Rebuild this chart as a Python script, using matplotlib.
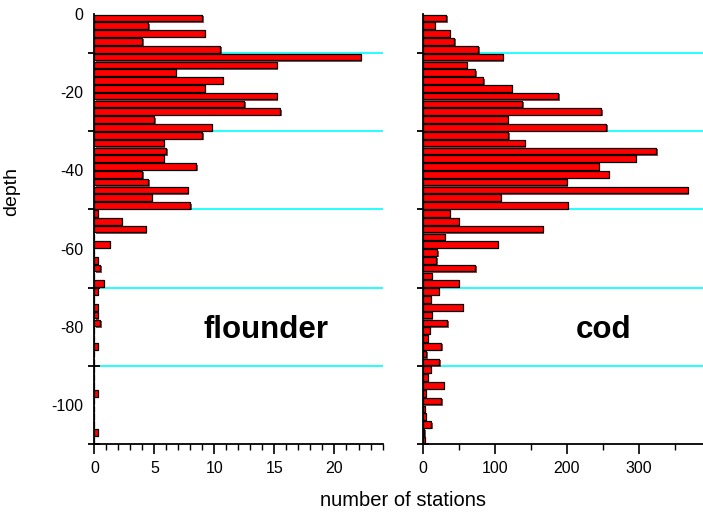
import matplotlib.pyplot as plt
import matplotlib.patheffects as pe
from matplotlib.ticker import MultipleLocator

plt.rcParams['font.family'] = ['Liberation Sans', 'DejaVu Sans']
plt.rcParams['axes.unicode_minus'] = False

# depth classes (bar centres), metres
depth = [-1, -3, -5, -7, -9, -11, -13, -15, -17, -19, -21, -23, -25, -27, -29,
         -31, -33, -35, -37, -39, -41, -43, -45, -47, -49, -51, -53, -55, -57, -59,
         -61, -63, -65, -67, -69, -71, -73, -75, -77, -79, -81, -83, -85, -87, -89,
         -91, -93, -95, -97, -99, -101, -103, -105, -107, -109]

flounder = [9.0, 4.5, 9.2, 4.0, 10.5, 22.2, 15.2, 6.8, 10.7, 9.2, 15.2, 12.5, 15.5, 5.0, 9.8,
            9.0, 5.8, 6.0, 5.8, 8.5, 4.0, 4.5, 7.8, 4.8, 8.0, 0.3, 2.3, 4.3, 0, 1.3,
            0, 0.3, 0.5, 0, 0.8, 0.3, 0, 0.3, 0.3, 0.5, 0, 0, 0.3, 0, 0,
            0, 0, 0, 0.3, 0, 0, 0, 0, 0.3, 0]

cod = [33, 17, 38, 44, 77, 111, 61, 73, 84, 124, 188, 138, 248, 118, 255,
       119, 142, 324, 296, 244, 258, 200, 368, 108, 201, 38, 50, 167, 31, 104,
       20, 19, 73, 13, 50, 22, 11, 56, 13, 34, 10, 7, 26, 5, 23,
       11, 7, 29, 4, 26, 3, 4, 12, 2, 3]

grid_depths = [-10, -30, -50, -70, -90]
label_depths = [0, -20, -40, -60, -80, -100]

fig = plt.figure(figsize=(7.03, 5.16), dpi=100)
ax1 = fig.add_axes([0.1344, 0.1395, 0.4097, 0.8333])
ax2 = fig.add_axes([0.6013, 0.1395, 0.3987, 0.8333])

shadow = [pe.SimplePatchShadow(offset=(1, -1), shadow_rgbFace='#700000', alpha=0.7), pe.Normal()]

for ax, vals, xmax, major, minor, name, tx in [
        (ax1, flounder, 24, 5, 1, 'flounder', 0.597),
        (ax2, cod, 389, 100, 50, 'cod', 0.647)]:
    for g in grid_depths:
        ax.axhline(g, color='#00ffff', lw=1.2, zorder=0)
    bars = ax.barh(depth, vals, height=1.7, color='#ff0000', edgecolor='black',
                   linewidth=0.9, zorder=2)
    for b in bars:
        b.set_path_effects(shadow)
    ax.set_xlim(0, xmax)
    ax.set_ylim(-110, 0)
    ax.spines['top'].set_visible(False)
    ax.spines['right'].set_visible(False)
    ax.spines['left'].set_linewidth(1.3)
    ax.spines['bottom'].set_linewidth(1.3)
    ax.xaxis.set_major_locator(MultipleLocator(major))
    ax.xaxis.set_minor_locator(MultipleLocator(minor))
    ax.tick_params(axis='x', which='major', direction='out', length=7, width=1.2,
                   labelsize=11.5, pad=5)
    ax.tick_params(axis='x', which='minor', direction='out', length=4, width=1.0)
    # tick marks at grid lines, labels at multiples of 20
    ax.set_yticks(grid_depths + [-110], minor=True)
    ax.set_yticks(label_depths)
    ax.tick_params(axis='y', which='major', length=0, labelsize=11.5, pad=8)
    ax.tick_params(axis='y', which='minor', direction='inout', length=9, width=1.3)
    ax.text(tx, 0.265, name, transform=ax.transAxes, fontsize=22.5, fontweight='bold',
            ha='center', va='center')

ax2.set_yticklabels([])
ax2.tick_params(axis='y', which='major', length=0)

fig.text(0.017, 0.628, 'depth', rotation=90, fontsize=14, ha='center', va='center')
fig.text(0.573, 0.03, 'number of stations', fontsize=14.5, ha='center', va='center')

fig.savefig('out.png', dpi=100)
